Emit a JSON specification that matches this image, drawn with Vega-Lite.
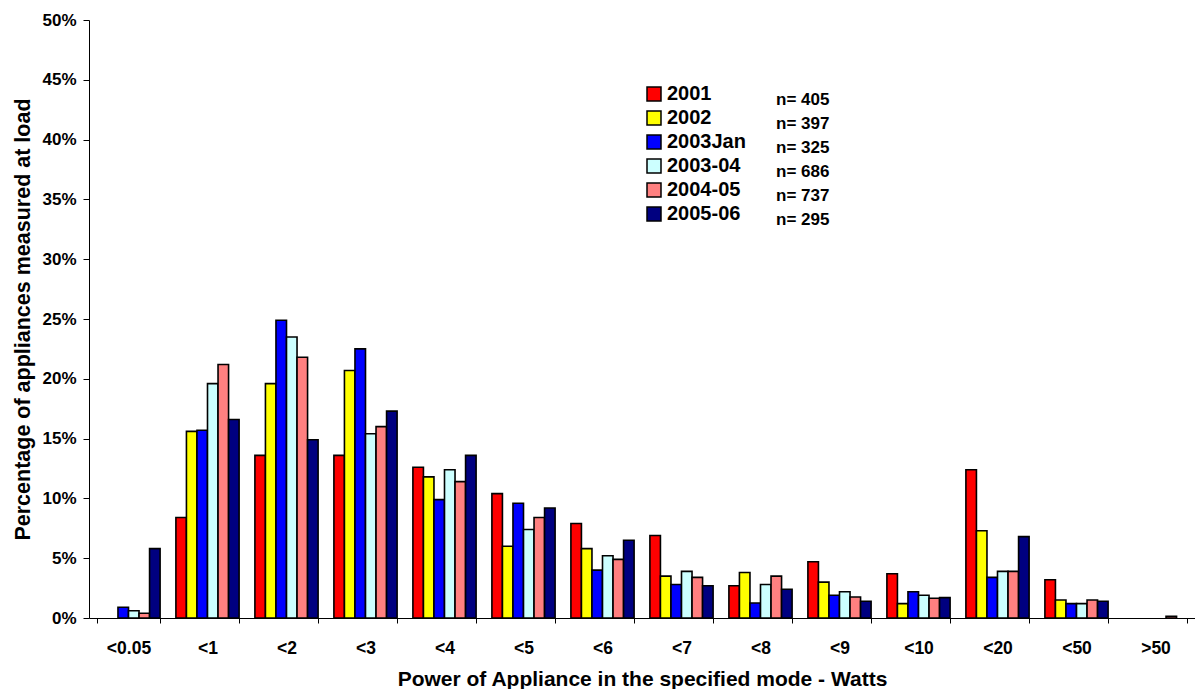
{
  "$schema": "https://vega.github.io/schema/vega-lite/v6.json",
  "width": 1106,
  "height": 598,
  "autosize": {"type": "none"},
  "padding": {"left": 89, "top": 20, "right": 0, "bottom": 71},
  "background": "white",
  "config": {
    "font": "Liberation Sans",
    "view": {"stroke": null},
    "axis": {"grid": false, "domainColor": "black", "tickColor": "black", "labelColor": "black", "titleColor": "black", "labelFontWeight": "bold", "titleFontWeight": "bold", "domainWidth": 1, "tickWidth": 1}
  },
  "layer": [
    {
      "data": {
        "values": [
          {"cat": "<0.05", "year": "2003Jan", "v": 0.9},
          {"cat": "<0.05", "year": "2003-04", "v": 0.6},
          {"cat": "<0.05", "year": "2004-05", "v": 0.4},
          {"cat": "<0.05", "year": "2005-06", "v": 5.8},
          {"cat": "<1", "year": "2001", "v": 8.4},
          {"cat": "<1", "year": "2002", "v": 15.6},
          {"cat": "<1", "year": "2003Jan", "v": 15.7},
          {"cat": "<1", "year": "2003-04", "v": 19.6},
          {"cat": "<1", "year": "2004-05", "v": 21.2},
          {"cat": "<1", "year": "2005-06", "v": 16.6},
          {"cat": "<2", "year": "2001", "v": 13.6},
          {"cat": "<2", "year": "2002", "v": 19.6},
          {"cat": "<2", "year": "2003Jan", "v": 24.9},
          {"cat": "<2", "year": "2003-04", "v": 23.5},
          {"cat": "<2", "year": "2004-05", "v": 21.8},
          {"cat": "<2", "year": "2005-06", "v": 14.9},
          {"cat": "<3", "year": "2001", "v": 13.6},
          {"cat": "<3", "year": "2002", "v": 20.7},
          {"cat": "<3", "year": "2003Jan", "v": 22.5},
          {"cat": "<3", "year": "2003-04", "v": 15.4},
          {"cat": "<3", "year": "2004-05", "v": 16.0},
          {"cat": "<3", "year": "2005-06", "v": 17.3},
          {"cat": "<4", "year": "2001", "v": 12.6},
          {"cat": "<4", "year": "2002", "v": 11.8},
          {"cat": "<4", "year": "2003Jan", "v": 9.9},
          {"cat": "<4", "year": "2003-04", "v": 12.4},
          {"cat": "<4", "year": "2004-05", "v": 11.4},
          {"cat": "<4", "year": "2005-06", "v": 13.6},
          {"cat": "<5", "year": "2001", "v": 10.4},
          {"cat": "<5", "year": "2002", "v": 6.0},
          {"cat": "<5", "year": "2003Jan", "v": 9.6},
          {"cat": "<5", "year": "2003-04", "v": 7.4},
          {"cat": "<5", "year": "2004-05", "v": 8.4},
          {"cat": "<5", "year": "2005-06", "v": 9.2},
          {"cat": "<6", "year": "2001", "v": 7.9},
          {"cat": "<6", "year": "2002", "v": 5.8},
          {"cat": "<6", "year": "2003Jan", "v": 4.0},
          {"cat": "<6", "year": "2003-04", "v": 5.2},
          {"cat": "<6", "year": "2004-05", "v": 4.9},
          {"cat": "<6", "year": "2005-06", "v": 6.5},
          {"cat": "<7", "year": "2001", "v": 6.9},
          {"cat": "<7", "year": "2002", "v": 3.5},
          {"cat": "<7", "year": "2003Jan", "v": 2.8},
          {"cat": "<7", "year": "2003-04", "v": 3.9},
          {"cat": "<7", "year": "2004-05", "v": 3.4},
          {"cat": "<7", "year": "2005-06", "v": 2.7},
          {"cat": "<8", "year": "2001", "v": 2.7},
          {"cat": "<8", "year": "2002", "v": 3.8},
          {"cat": "<8", "year": "2003Jan", "v": 1.25},
          {"cat": "<8", "year": "2003-04", "v": 2.8},
          {"cat": "<8", "year": "2004-05", "v": 3.5},
          {"cat": "<8", "year": "2005-06", "v": 2.4},
          {"cat": "<9", "year": "2001", "v": 4.7},
          {"cat": "<9", "year": "2002", "v": 3.0},
          {"cat": "<9", "year": "2003Jan", "v": 1.9},
          {"cat": "<9", "year": "2003-04", "v": 2.2},
          {"cat": "<9", "year": "2004-05", "v": 1.75},
          {"cat": "<9", "year": "2005-06", "v": 1.4},
          {"cat": "<10", "year": "2001", "v": 3.7},
          {"cat": "<10", "year": "2002", "v": 1.2},
          {"cat": "<10", "year": "2003Jan", "v": 2.2},
          {"cat": "<10", "year": "2003-04", "v": 1.9},
          {"cat": "<10", "year": "2004-05", "v": 1.65},
          {"cat": "<10", "year": "2005-06", "v": 1.7},
          {"cat": "<20", "year": "2001", "v": 12.4},
          {"cat": "<20", "year": "2002", "v": 7.3},
          {"cat": "<20", "year": "2003Jan", "v": 3.4},
          {"cat": "<20", "year": "2003-04", "v": 3.9},
          {"cat": "<20", "year": "2004-05", "v": 3.9},
          {"cat": "<20", "year": "2005-06", "v": 6.8},
          {"cat": "<50", "year": "2001", "v": 3.2},
          {"cat": "<50", "year": "2002", "v": 1.5},
          {"cat": "<50", "year": "2003Jan", "v": 1.2},
          {"cat": "<50", "year": "2003-04", "v": 1.2},
          {"cat": "<50", "year": "2004-05", "v": 1.5},
          {"cat": "<50", "year": "2005-06", "v": 1.4},
          {"cat": ">50", "year": "2004-05", "v": 0.15}
        ]
      },
      "mark": {"type": "bar", "stroke": "black", "strokeWidth": 1.6},
      "encoding": {
        "x": {
          "field": "cat", "type": "nominal",
          "sort": ["<0.05", "<1", "<2", "<3", "<4", "<5", "<6", "<7", "<8", "<9", "<10", "<20", "<50", ">50"],
          "scale": {"domain": ["<0.05", "<1", "<2", "<3", "<4", "<5", "<6", "<7", "<8", "<9", "<10", "<20", "<50", ">50"], "paddingInner": 0.2, "paddingOuter": 0.1},
          "axis": {"title": "Power of Appliance in the specified mode - Watts", "titleFontSize": 21, "titlePadding": 12, "labelFontSize": 17.5, "labelAngle": 0, "labelPadding": 16, "tickSize": 5, "tickBand": "extent"}
        },
        "xOffset": {
          "field": "year", "type": "nominal",
          "scale": {"domain": ["2001", "2002", "2003Jan", "2003-04", "2004-05", "2005-06"], "paddingInner": 0, "paddingOuter": 0}
        },
        "y": {
          "field": "v", "type": "quantitative",
          "scale": {"domain": [0, 50], "nice": false},
          "axis": {"title": "Percentage of appliances measured at load", "titleFontSize": 21.5, "titlePadding": 7, "labelFontSize": 17, "labelPadding": 7, "tickSize": 6, "values": [0, 5, 10, 15, 20, 25, 30, 35, 40, 45, 50], "labelExpr": "datum.value + '%'"}
        },
        "color": {
          "field": "year", "type": "nominal",
          "scale": {"domain": ["2001", "2002", "2003Jan", "2003-04", "2004-05", "2005-06"], "range": ["#FF0000", "#FFFF00", "#0000FF", "#CCFFFF", "#FF8080", "#000080"]},
          "legend": {"title": null, "orient": "none", "legendX": 555, "legendY": 64, "padding": 0, "symbolType": "square", "symbolSize": 196, "symbolStrokeColor": "black", "symbolStrokeWidth": 1.5, "labelFontSize": 20, "labelFontWeight": "bold", "labelColor": "black", "labelOffset": 3, "rowPadding": 4}
        }
      }
    },
    {
      "data": {
        "values": [
          {"n": "n= 405"},
          {"n": "n= 397"},
          {"n": "n= 325"},
          {"n": "n= 686"},
          {"n": "n= 737"},
          {"n": "n= 295"}
        ]
      },
      "mark": {"type": "point", "opacity": 0},
      "encoding": {
        "shape": {
          "field": "n", "type": "nominal",
          "scale": {"domain": ["n= 405", "n= 397", "n= 325", "n= 686", "n= 737", "n= 295"]},
          "legend": {"title": null, "orient": "none", "legendX": 670, "legendY": 71, "padding": 0, "symbolSize": 1, "symbolOpacity": 0, "symbolStrokeWidth": 0, "labelFontSize": 17, "labelFontWeight": "bold", "labelColor": "black", "labelOffset": 0, "rowPadding": 6}
        }
      }
    }
  ]
}
